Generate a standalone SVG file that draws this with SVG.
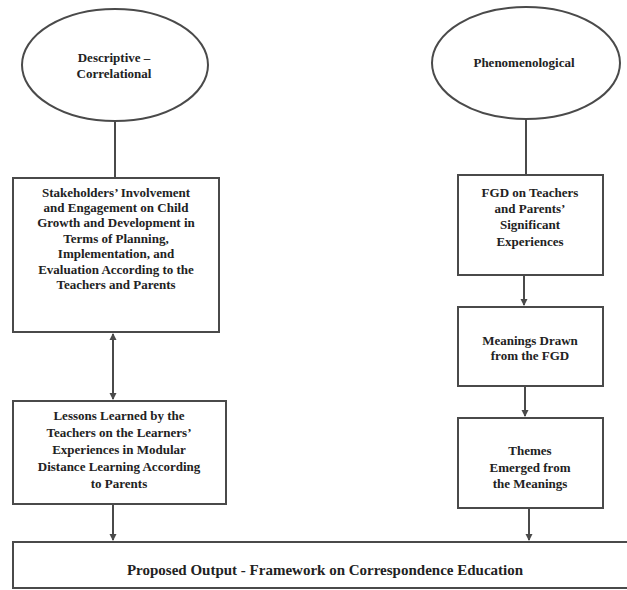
<svg xmlns="http://www.w3.org/2000/svg" width="627" height="590" viewBox="0 0 627 590">
<style>
.s{fill:#fff;stroke:#4a4a4a;stroke-width:2}
.t{font-family:"Liberation Serif","Times New Roman",serif;font-weight:bold;font-size:13px;fill:#222;text-anchor:middle}
.b{font-size:15px}
.c{stroke:#4a4a4a;stroke-width:2;fill:none}
</style>
<defs>
<marker id="ah" markerWidth="8" markerHeight="8" refX="6" refY="4" orient="auto" markerUnits="userSpaceOnUse">
<path d="M0,0.5 L7,4 L0,7.5 Z" fill="#4a4a4a"/>
</marker>
<marker id="as" markerWidth="8" markerHeight="8" refX="1" refY="4" orient="auto" markerUnits="userSpaceOnUse">
<path d="M7,0.5 L0,4 L7,7.5 Z" fill="#4a4a4a"/>
</marker>
</defs>
<rect width="627" height="590" fill="#fff"/>
<g id="connectors">
<line class="c" x1="115" y1="121" x2="115" y2="178"/>
<line class="c" x1="113" y1="334" x2="113" y2="399" marker-start="url(#as)" marker-end="url(#ah)"/>
<line class="c" x1="113" y1="504" x2="113" y2="540" marker-end="url(#ah)"/>
<line class="c" x1="526" y1="119" x2="526" y2="175"/>
<line class="c" x1="524" y1="275" x2="524" y2="305" marker-end="url(#ah)"/>
<line class="c" x1="525" y1="386" x2="525" y2="416" marker-end="url(#ah)"/>
<line class="c" x1="529" y1="508" x2="529" y2="540" marker-end="url(#ah)"/>
</g>
<g id="n_descriptive">
<ellipse class="s" cx="115" cy="65" rx="93" ry="56"/>
<text class="t" x="114" y="62">Descriptive –</text>
<text class="t" x="114" y="78">Correlational</text>
</g>
<g id="n_phenom">
<ellipse class="s" cx="526" cy="63" rx="94" ry="56"/>
<text class="t" x="524" y="67">Phenomenological</text>
</g>
<g id="n_stakeholders">
<rect class="s" x="13" y="178" width="206" height="154"/>
<text class="t" x="116" y="197">Stakeholders’ Involvement</text>
<text class="t" x="116" y="212">and Engagement on Child</text>
<text class="t" x="116" y="227">Growth and Development in</text>
<text class="t" x="116" y="243">Terms of Planning,</text>
<text class="t" x="116" y="258">Implementation, and</text>
<text class="t" x="116" y="274">Evaluation According to the</text>
<text class="t" x="116" y="289">Teachers and Parents</text>
</g>
<g id="n_lessons">
<rect class="s" x="13" y="401" width="213" height="103"/>
<text class="t" x="119" y="420">Lessons Learned by the</text>
<text class="t" x="119" y="437">Teachers on the Learners’</text>
<text class="t" x="119" y="454">Experiences in Modular</text>
<text class="t" x="119" y="471">Distance Learning According</text>
<text class="t" x="119" y="488">to Parents</text>
</g>
<g id="n_fgd">
<rect class="s" x="458" y="175" width="145" height="100"/>
<text class="t" x="530" y="197">FGD on Teachers</text>
<text class="t" x="530" y="213">and Parents’</text>
<text class="t" x="530" y="229">Significant</text>
<text class="t" x="530" y="246">Experiences</text>
</g>
<g id="n_meanings">
<rect class="s" x="458" y="307" width="145" height="79"/>
<text class="t" x="530" y="345">Meanings Drawn</text>
<text class="t" x="530" y="360">from the FGD</text>
</g>
<g id="n_themes">
<rect class="s" x="458" y="418" width="145" height="90"/>
<text class="t" x="530" y="455">Themes</text>
<text class="t" x="530" y="472">Emerged from</text>
<text class="t" x="530" y="488">the Meanings</text>
</g>
<g id="n_output">
<rect class="s" x="13" y="542" width="620" height="46"/>
<text class="t b" x="325" y="575">Proposed Output - Framework on Correspondence Education</text>
</g>
</svg>
